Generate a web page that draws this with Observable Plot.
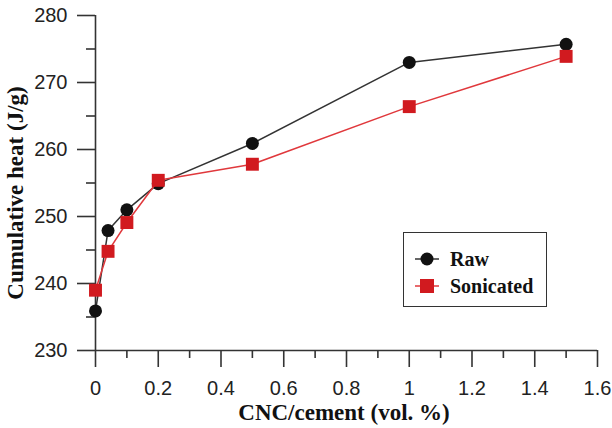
<!DOCTYPE html>
<html><head><meta charset="utf-8">
<script src="https://cdn.jsdelivr.net/npm/d3@7"></script>
<script src="https://cdn.jsdelivr.net/npm/@observablehq/plot@0.6"></script>
<style>
body{margin:0;background:#fff}
#wrap{position:relative;width:612px;height:428px;overflow:hidden}
.ttl{position:absolute;font-family:"Liberation Serif","Times New Roman",serif;font-weight:bold;color:#111;white-space:nowrap;line-height:1}
#xt{left:344px;top:412px;font-size:23px;transform:translate(-50%,-50%)}
#yt{left:15px;top:193px;font-size:23px;transform:translate(-50%,-50%) rotate(-90deg)}
#legend{position:absolute;left:403px;top:232px;width:144px;height:75px;border:1.6px solid #333;box-sizing:border-box;background:#fff;font-family:"Liberation Serif","Times New Roman",serif;font-weight:bold;font-size:20px;color:#111}
.row{position:absolute;left:10px;display:flex;align-items:center;height:24px;line-height:1}
.row svg{margin-right:10px}
</style></head>
<body><div id="wrap"><div id="chart"></div>
<div class="ttl" id="xt">CNC/cement (vol. %)</div>
<div class="ttl" id="yt">Cumulative heat (J/g)</div>
<div id="legend"></div>
</div>
<script>
const xVals = [0, 0.04, 0.1, 0.2, 0.5, 1, 1.5];
const rawHeat = [235.9, 247.9, 251.0, 254.9, 260.9, 273.0, 275.7];
const sonHeat = [239.0, 244.8, 249.1, 255.4, 257.8, 266.4, 273.9];
const seriesNames = ["Raw", "Sonicated"];
const seriesColors = ["#111111", "#d11a1f"];
const lineColors = ["#333333", "#e0383c"];
const xTicks = [0, 0.2, 0.4, 0.6, 0.8, 1, 1.2, 1.4, 1.6];
const xMinor = [0.1, 0.3, 0.5, 0.7, 0.9, 1.1, 1.3, 1.5];
const yTicks = [230, 240, 250, 260, 270, 280];
const yMinor = [235, 245, 255, 265, 275];

const rows = xVals.map((x, i) => ({x, y: rawHeat[i], s: seriesNames[0]}));
const rowsS = xVals.map((x, i) => ({x, y: sonHeat[i], s: seriesNames[1]}));

const axisColor = "#333";
const chart = Plot.plot({
  width: 612, height: 428,
  marginLeft: 95, marginRight: 15, marginTop: 15, marginBottom: 78,
  x: {domain: [0, 1.6]},
  y: {domain: [230, 280]},
  style: {fontFamily: "'Liberation Sans', Arial, sans-serif", fontSize: "20px", color: "#222", background: "#fff"},
  marks: [
    Plot.ruleY([230], {stroke: axisColor, strokeWidth: 1.6}),
    Plot.ruleX([0], {stroke: axisColor, strokeWidth: 1.6}),
    Plot.axisX(xTicks, {tickSize: 17, tickPadding: 13, stroke: axisColor, strokeWidth: 1.6, label: null, tickFormat: d => String(d)}),
    Plot.axisX(xMinor, {tickSize: 8, stroke: axisColor, strokeWidth: 1.6, label: null, tickFormat: () => ""}),
    Plot.axisY(yTicks, {tickSize: 18, tickPadding: 10, stroke: axisColor, strokeWidth: 1.6, label: null, tickFormat: d => String(d)}),
    Plot.axisY(yMinor, {tickSize: 9, stroke: axisColor, strokeWidth: 1.6, label: null, tickFormat: () => ""}),
    Plot.line(rows, {x: "x", y: "y", stroke: lineColors[0], strokeWidth: 1.5}),
    Plot.dot(rows, {x: "x", y: "y", r: 6.5, fill: seriesColors[0], stroke: "none", symbol: "circle"}),
    Plot.line(rowsS, {x: "x", y: "y", stroke: lineColors[1], strokeWidth: 1.5}),
    Plot.dot(rowsS, {x: "x", y: "y", r: 7.3, fill: seriesColors[1], stroke: "none", symbol: "square"})
  ]
});
document.getElementById("chart").appendChild(chart);

const leg = document.getElementById("legend");
seriesNames.forEach((name, i) => {
  const row = document.createElement("div");
  row.className = "row";
  row.style.top = (i === 0 ? 14 : 41) + "px";
  const sym = i === 0
    ? `<circle cx="13" cy="12" r="6.5" fill="${seriesColors[0]}"/>`
    : `<rect x="6" y="5" width="14" height="14" fill="${seriesColors[1]}"/>`;
  row.innerHTML = `<svg width="26" height="24"><line x1="1" x2="25" y1="12" y2="12" stroke="${lineColors[i]}" stroke-width="1.5"/>${sym}</svg><span>${name}</span>`;
  leg.appendChild(row);
});
</script></body></html>
